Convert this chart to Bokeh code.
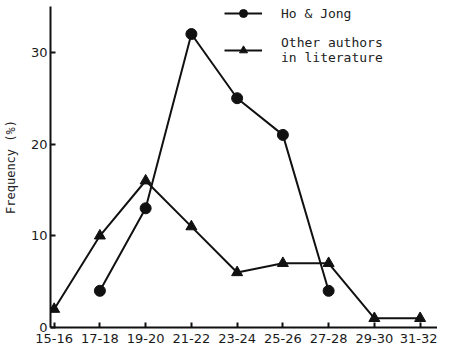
from bokeh.plotting import figure
from bokeh.models import Range1d, FixedTicker, Legend, LegendItem
from bokeh.embed import file_html
from bokeh.resources import INLINE

age_groups = ["15-16", "17-18", "19-20", "21-22", "23-24", "25-26", "27-28", "29-30", "31-32"]
ho_jong_idx = [1, 2, 3, 4, 5, 6]
ho_jong_vals = [4, 13, 32, 25, 21, 4]
other_idx = [0, 1, 2, 3, 4, 5, 6, 7, 8]
other_vals = [2, 10, 16, 11, 6, 7, 7, 1, 1]
y_ticks = [0, 10, 20, 30]

p = figure(width=437, height=345, output_backend="svg", toolbar_location=None,
           x_range=Range1d(-0.08, 8.38), y_range=Range1d(0, 35),
           min_border_left=44, min_border_right=0, min_border_top=6, min_border_bottom=0)
p.outline_line_color = None
p.grid.visible = False
p.background_fill_color = "white"
p.border_fill_color = "white"

ink = "#111111"
r1l = p.line(ho_jong_idx, ho_jong_vals, line_color=ink, line_width=2)
r1m = p.scatter(ho_jong_idx, ho_jong_vals, marker="circle", size=11, fill_color=ink, line_color=ink)
r2l = p.line(other_idx, other_vals, line_color=ink, line_width=2)
r2m = p.scatter(other_idx, other_vals, marker="triangle", size=11, fill_color=ink, line_color=ink)

for ax in (p.xaxis[0], p.yaxis[0]):
    ax.axis_line_width = 2
    ax.axis_line_color = ink
    ax.major_tick_in = 5
    ax.major_tick_out = 0
    ax.major_tick_line_color = ink
    ax.major_tick_line_width = 2
    ax.minor_tick_line_color = None
    ax.major_label_text_font = "DejaVu Sans"
    ax.major_label_text_font_size = "13px"
    ax.major_label_text_color = "#1a1a1a"

p.xaxis[0].ticker = FixedTicker(ticks=list(range(len(age_groups))))
p.xaxis[0].major_label_overrides = {i: s for i, s in enumerate(age_groups)}
p.xaxis[0].major_label_standoff = 6
p.yaxis[0].ticker = FixedTicker(ticks=y_ticks)
p.yaxis[0].major_label_standoff = 3
p.yaxis[0].axis_label = "Frequency (%)"
p.yaxis[0].axis_label_text_font = "DejaVu Sans Mono"
p.yaxis[0].axis_label_text_font_size = "12px"
p.yaxis[0].axis_label_text_font_style = "normal"
p.yaxis[0].axis_label_text_color = "#222222"
p.yaxis[0].axis_label_standoff = 10

legend = Legend(items=[LegendItem(label="Ho & Jong", renderers=[r1l, r1m]),
                       LegendItem(label="Other authors\nin literature", renderers=[r2l, r2m])],
                location=(174, 262), border_line_color=None, background_fill_alpha=0,
                label_text_font="DejaVu Sans Mono", label_text_font_size="13px",
                label_text_line_height=1.25,
                label_text_color="#222222", glyph_width=38, label_standoff=19,
                spacing=12, padding=0, margin=0)
p.add_layout(legend, "center")

open("out.html", "w").write(file_html(p, INLINE))
